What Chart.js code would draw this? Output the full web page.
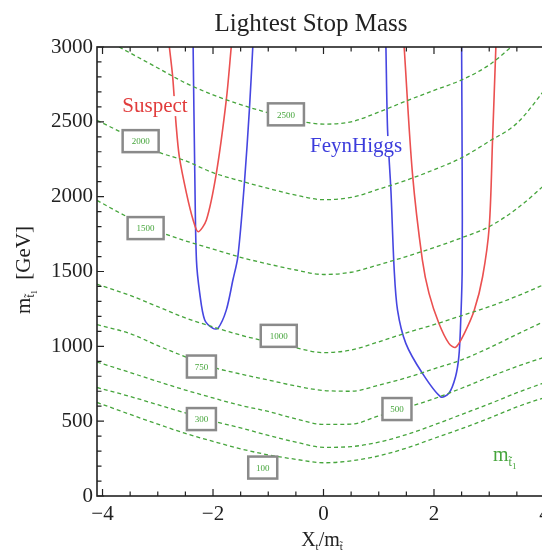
<!DOCTYPE html>
<html>
<head>
<meta charset="utf-8">
<script src="https://cdn.jsdelivr.net/npm/chart.js@4"></script>
<style>
html, body { margin: 0; padding: 0; background: #fff; overflow: hidden; }
</style>
</head>
<body>
<canvas id="myChart" width="560" height="554"></canvas>
<script>
var xs = [-4.1, -3.5, -3, -2.5, -2, -1.5, -1, -0.5, 0, 0.5, 1, 1.5, 2, 2.5, 3, 3.5, 4.1];
var m100 = [625, 545, 480, 418, 365, 315, 275, 245, 222, 235, 268, 320, 385, 450, 520, 595, 670];
var m300 = [725, 665, 610, 555, 500, 455, 405, 360, 325, 330, 360, 410, 475, 545, 615, 690, 770];
var m500 = [895, 825, 765, 708, 655, 605, 565, 515, 478, 480, 535, 590, 650, 720, 795, 865, 940];
var m750 = [1145, 1085, 1005, 930, 860, 815, 775, 735, 705, 700, 740, 790, 850, 910, 990, 1080, 1185];
var m1000 = [1415, 1340, 1265, 1190, 1130, 1075, 1030, 990, 958, 975, 1030, 1090, 1145, 1205, 1265, 1335, 1430];
var m1500 = [1975, 1855, 1770, 1705, 1650, 1595, 1550, 1510, 1480, 1495, 1545, 1600, 1660, 1725, 1800, 1920, 2110];
var m2000 = [2510, 2400, 2300, 2240, 2160, 2105, 2055, 2010, 1980, 1995, 2050, 2110, 2180, 2260, 2370, 2490, 2760];
var xs2500 = [-3.7, -3.5, -3, -2.5, -2, -1.5, -1, -0.5, 0, 0.5, 1, 1.5, 2, 2.5, 3, 3.4];
var m2500 = [3000, 2960, 2860, 2760, 2680, 2615, 2560, 2510, 2485, 2500, 2565, 2640, 2710, 2780, 2880, 3000];

// m_h = 125 GeV bands: Suspect (red) and FeynHiggs (blue)
var suspectLx = [-2.79, -2.73, -2.67, -2.61, -2.48, -2.36, -2.27, -2.12, -1.94, -1.76, -1.67];
var suspectLy = [3000, 2800, 2490, 2267, 2022, 1844, 1766, 1844, 2156, 2645, 3000];
var suspectRx = [1.46, 1.61, 1.79, 1.91, 2.09, 2.27, 2.39, 2.55, 2.73, 2.88, 3.0, 3.06, 3.12];
var suspectRy = [3000, 2156, 1576, 1354, 1153, 1020, 993, 1087, 1242, 1465, 1799, 2378, 3000];
var feynLx = [-2.36, -2.33, -2.30, -2.24, -2.15, -2.0, -1.91, -1.76, -1.64, -1.55, -1.43, -1.34, -1.28];
var feynLy = [3000, 2156, 1576, 1354, 1176, 1120, 1120, 1242, 1443, 1600, 2100, 2590, 3000];
var feynRx = [1.13, 1.16, 1.22, 1.28, 1.34, 1.49, 1.79, 2.12, 2.27, 2.39, 2.45, 2.48, 2.51, 2.51, 2.5];
var feynRy = [3000, 2445, 2044, 1510, 1242, 1020, 820, 663, 686, 797, 931, 1131, 1500, 2200, 3000];

function pts(xv, yv) {
  return xv.map(function (x, i) { return {x: x, y: yv[i]}; });
}

var serif = '"Liberation Serif", "DejaVu Serif", serif';
var green = 'rgb(70,165,60)';

function contour(xv, yv) {
  return {
    data: pts(xv, yv),
    showLine: true,
    borderColor: green,
    borderWidth: 1.3,
    borderDash: [4, 3],
    pointRadius: 0,
    cubicInterpolationMode: 'monotone'
  };
}
function band(xv, yv, col) {
  return {
    data: pts(xv, yv),
    showLine: true,
    borderColor: col,
    borderWidth: 1.6,
    pointRadius: 0,
    tension: 0.3
  };
}

// text drawn in pieces so subscripts work: [text, size, baseline shift]
function drawParts(ctx, parts, cx, cy, col) {
  var w = 0;
  parts.forEach(function (p) { ctx.font = p[1] + 'px ' + serif; w += ctx.measureText(p[0]).width; });
  var x = cx - w / 2;
  ctx.fillStyle = col;
  ctx.textAlign = 'left';
  ctx.textBaseline = 'alphabetic';
  parts.forEach(function (p) {
    ctx.font = p[1] + 'px ' + serif;
    ctx.fillText(p[0], x, cy + p[2]);
    x += ctx.measureText(p[0]).width;
  });
}

var decor = {
  id: 'decor',
  afterDatasetsDraw: function (chart) {
    var ctx = chart.ctx, sx = chart.scales.x, sy = chart.scales.y;
    ctx.save();
    // contour label boxes
    var boxes = [
      ['2500', -0.68, 2550], ['2000', -3.31, 2371], ['1500', -3.22, 1790],
      ['1000', -0.81, 1070], ['750', -2.21, 865], ['300', -2.21, 514],
      ['100', -1.10, 190], ['500', 1.33, 581]
    ];
    boxes.forEach(function (b) {
      var px = sx.getPixelForValue(b[1]), py = sy.getPixelForValue(b[2]);
      var w = b[0].length > 3 ? 36 : 29, h = 22;
      ctx.fillStyle = '#fff';
      ctx.fillRect(px - w / 2, py - h / 2, w, h);
      ctx.strokeStyle = '#8a8a8a';
      ctx.lineWidth = 2.5;
      ctx.strokeRect(px - w / 2, py - h / 2, w, h);
      ctx.font = '9px ' + serif;
      ctx.fillStyle = green;
      ctx.textAlign = 'center';
      ctx.textBaseline = 'middle';
      ctx.fillText(b[0], px, py + 1);
    });
    // series names with white backing
    [['Suspect', -3.05, 2605, 'rgb(225,60,60)'], ['FeynHiggs', 0.59, 2338, 'rgb(60,60,220)']].forEach(function (t) {
      var px = sx.getPixelForValue(t[1]), py = sy.getPixelForValue(t[2]);
      ctx.font = '21px ' + serif;
      var w = ctx.measureText(t[0]).width;
      ctx.fillStyle = '#fff';
      ctx.fillRect(px - w / 2 - 1, py - 10, w + 2, 20);
      ctx.fillStyle = t[3];
      ctx.textAlign = 'center';
      ctx.textBaseline = 'middle';
      ctx.fillText(t[0], px, py);
    });
    drawParts(ctx, [['m', 20, 0], ['t\u0303', 12, 5], ['1', 9, 8]],
      sx.getPixelForValue(3.28), sy.getPixelForValue(274) + 6, green);
    ctx.restore();
  },
  afterDraw: function (chart) {
    var ctx = chart.ctx, a = chart.chartArea, sx = chart.scales.x, sy = chart.scales.y;
    ctx.save();
    // frame
    ctx.strokeStyle = '#222';
    ctx.lineWidth = 1.6;
    ctx.strokeRect(a.left, a.top, a.right - a.left, a.bottom - a.top);
    // inward ticks
    ctx.lineWidth = 1.2;
    ctx.beginPath();
    for (var v = -4; v <= 4.001; v += 0.5) {
      var px = sx.getPixelForValue(v);
      var len = Math.abs(v % 2) < 1e-6 ? 7 : 4.5;
      ctx.moveTo(px, a.bottom); ctx.lineTo(px, a.bottom - len);
      ctx.moveTo(px, a.top); ctx.lineTo(px, a.top + len);
    }
    for (var u = 0; u <= 3000; u += 100) {
      var py = sy.getPixelForValue(u);
      var l2 = u % 500 === 0 ? 7 : 4.5;
      ctx.moveTo(a.left, py); ctx.lineTo(a.left + l2, py);
    }
    ctx.stroke();
    // title
    ctx.font = '25px ' + serif;
    ctx.fillStyle = '#222';
    ctx.textAlign = 'center';
    ctx.textBaseline = 'middle';
    ctx.fillText('Lightest Stop Mass', 311, 24);
    // x title
    drawParts(ctx, [['X', 20, 0], ['t', 11, 4], ['/m', 20, 0], ['t\u0303', 11, 4]], 322, 546, '#222');
    // y title, rotated
    ctx.translate(30, 270);
    ctx.rotate(-Math.PI / 2);
    drawParts(ctx, [['m', 21, 0], ['t\u0303', 12, 4], ['1', 8, 7], ['  [GeV]', 21, 0]], 0, 0, '#222');
    ctx.restore();
  }
};

var ctx = document.getElementById('myChart').getContext('2d');
var myChart = new Chart(ctx, {
  type: 'scatter',
  data: {
    datasets: [
      contour(xs, m100), contour(xs, m300), contour(xs, m500), contour(xs, m750),
      contour(xs, m1000), contour(xs, m1500), contour(xs, m2000), contour(xs2500, m2500),
      band(suspectLx, suspectLy, 'rgb(235,80,80)'),
      band(suspectRx, suspectRy, 'rgb(235,80,80)'),
      band(feynLx, feynLy, 'rgb(70,70,225)'),
      band(feynRx, feynRy, 'rgb(70,70,225)')
    ]
  },
  options: {
    responsive: false,
    animation: false,
    devicePixelRatio: 1,
    layout: { padding: { top: 47, right: 10, left: 0, bottom: 0 } },
    plugins: {
      legend: { display: false },
      tooltip: { enabled: false }
    },
    scales: {
      x: {
        type: 'linear',
        min: -4.1,
        max: 4.1,
        grid: { display: false, drawTicks: false },
        border: { display: false },
        ticks: {
          stepSize: 0.5,
          includeBounds: false,
          autoSkip: false,
          maxRotation: 0,
          padding: 6,
          color: '#222',
          font: { family: serif, size: 21 },
          callback: function (v) {
            if (Math.abs(v % 2) > 1e-6) return '';
            return v < 0 ? '\u2212' + Math.abs(v) : String(v);
          }
        },
        afterFit: function (s) { s.height = 58; }
      },
      y: {
        min: 0,
        max: 3000,
        grid: { display: false, drawTicks: false },
        border: { display: false },
        ticks: {
          stepSize: 100,
          autoSkip: false,
          padding: 4,
          color: '#222',
          font: { family: serif, size: 21 },
          callback: function (v) { return v % 500 === 0 ? String(v) : ''; }
        },
        afterFit: function (s) { s.width = 97; }
      }
    }
  },
  plugins: [decor]
});
</script>
</body>
</html>
